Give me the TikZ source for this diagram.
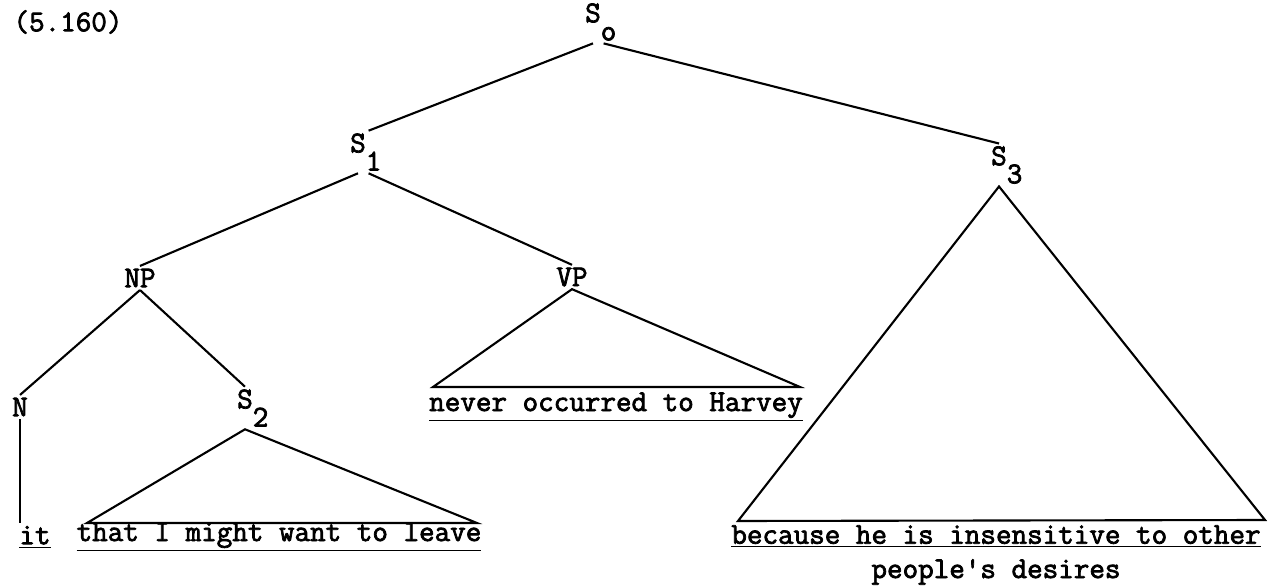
\documentclass[tikz,border=0pt]{standalone}
\usepackage{fontspec}
\newfontfamily\typer{Latin Modern Mono}[FakeBold=2.4]
\newcommand{\typefont}{\typer\fontsize{17.2pt}{19.5pt}\selectfont}
\newcommand{\lowr}[1]{\rlap{\raisebox{-0.6em}{#1}}}
\usetikzlibrary{positioning}

\begin{document}
\begin{tikzpicture}[
  line width=1.2pt,
  every node/.style={font=\typefont},
  cat node/.style={inner sep=1pt},
  word node/.style={inner sep=1pt,align=center},
]
\useasboundingbox (0,0) rectangle (25.56,11.74);
\node (num) at (1.36,11.30) {(5.160)};
\node[cat node] (s0) at (11.86,11.30) {S\lowr{o}};
\node[cat node] (s1) at (7.16,8.70) {S\lowr{1}};
\node[cat node] (s3) at (19.98,8.44) {S\lowr{3}};
\node[cat node] (np) at (2.80,6.18) {NP};
\node[cat node] (vp) at (11.44,6.20) {VP};
\node[cat node] (n) at (0.40,3.60) {N};
\node[cat node] (s2) at (4.90,3.58) {S\lowr{2}};
\node[word node] (it) at (0.70,1.00) {\underline{it}};
\node[word node] (leave) at (5.58,1.00) {\underline{that I might want to leave}};
\node[word node] (harvey) at (12.32,3.60) {\underline{never occurred to Harvey}};
\node[word node] (because) at (19.92,0.64) {\underline{because he is insensitive to other}\\people's desires};
\coordinate (s2l) at (1.74,1.28);
\coordinate (s2r) at (9.54,1.28);
\coordinate (vpl) at (8.66,4.00);
\coordinate (vpr) at (16.00,4.00);
\coordinate (s3l) at (14.76,1.32);
\coordinate (s3r) at (25.30,1.34);
\draw (s0.south) -- (s1.north east);
\draw (s0.south east) -- (s3.north);
\draw (s1.south) -- (np.north);
\draw (s1.south east) -- (vp.north);
\draw (np.south) -- (n.north);
\draw (np.south) -- (s2.north);
\draw (n.south) -- (n.south |- it.north);
\draw (s2.south) -- (s2l) -- (s2r) -- cycle;
\draw (vp.south) -- (vpl) -- (vpr) -- cycle;
\draw (s3.south) -- (s3l) -- (s3r) -- cycle;
\end{tikzpicture}
\end{document}
